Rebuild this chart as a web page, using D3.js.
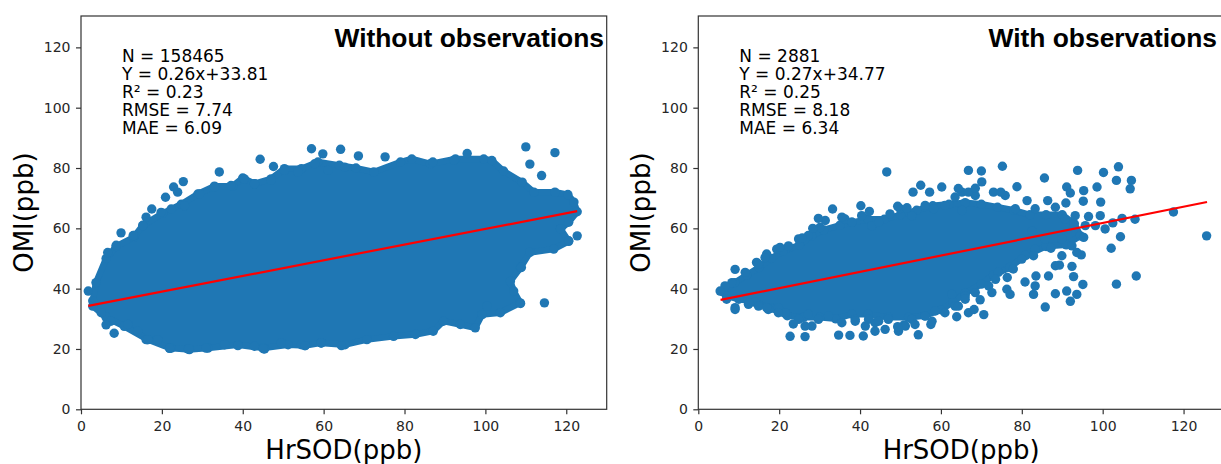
<!DOCTYPE html>
<html>
<head>
<meta charset="utf-8">
<script src="https://cdn.jsdelivr.net/npm/d3@7"></script>
<style>
  body { margin: 0; background: #fff; }
  svg { display: block; }
  .tick text { font-family: "DejaVu Sans", sans-serif; font-size: 14px; fill: #262626; }
  .tick line { stroke: #333; stroke-width: 1.2; }
</style>
</head>
<body>
<svg id="chart" width="1221" height="464"></svg>
<script>
// ticks shared by both panels
const xTicks = [0, 20, 40, 60, 80, 100, 120];
const yTicks = [0, 20, 40, 60, 80, 100, 120];

const titles = ["Without observations", "With observations"];
const xLabel = "HrSOD(ppb)";
const yLabel = "OMI(ppb)";

const statsLeft = ["N = 158465", "Y = 0.26x+33.81", "R\u00b2 = 0.23", "RMSE = 7.74", "MAE = 6.09"];
const statsRight = ["N = 2881", "Y = 0.27x+34.77", "R\u00b2 = 0.25", "RMSE = 8.18", "MAE = 6.34"];

// fitted line: slope, intercept, x extent
const fitLeft = [0.26, 33.81, 1.8, 122.7];
const fitRight = [0.27, 34.77, 5.5, 125.8];

const leftCore = [
  [2.9, 36], [3.7, 42], [6.2, 50], [8.7, 54], [13, 57], [15.3, 61], [20.2, 65], [24.8, 68],
  [28.9, 71.4], [33, 74], [37.5, 74], [40, 76.7], [42.9, 74.8], [47, 76.4], [50.3, 79.8],
  [54.5, 79.8], [58.6, 82], [63.9, 80.9], [68, 80], [72.4, 78.7], [79, 82], [81.8, 83],
  [86.4, 81.4], [92.6, 83], [99.6, 83], [101.6, 82.5], [104.5, 79], [109.1, 75.3], [112, 72],
  [117.2, 72], [120.4, 71.2], [121.9, 68.7], [122.7, 65.5], [120.6, 62], [118.6, 59.8],
  [120.6, 55.7], [116.9, 53.1], [111, 52], [108.7, 47], [106.2, 42.5], [107, 39.2],
  [108.6, 35.3], [103.7, 32], [99.2, 31.4], [97.5, 27], [93.8, 28.1], [89.6, 29.2],
  [87.1, 25.9], [82.7, 24.8], [77.3, 24.2], [70.7, 23.1], [65.3, 21.4], [59.4, 22],
  [55.4, 21.1], [51.2, 21.4], [45, 20.3], [38.8, 21.4], [31.4, 20.3], [26.8, 19.8],
  [21.9, 20.3], [16.5, 23.1], [10.7, 27.5], [6.2, 30.5], [2.9, 34.2]
];

// left panel: points on the ragged edge and loose points around the cloud
const leftPoints = [
  [6.6, 52], [8.7, 54.4], [13.2, 57.6], [15.3, 60.9], [16.1, 63.7], [19.8, 65.3], [22.3, 66.4],
  [25.6, 67.5], [29.3, 71.4], [33, 73.7], [37.1, 74.2], [40.4, 76.4], [42.9, 74.8], [47, 75.9],
  [50.3, 79.2], [53.6, 78.7], [57.8, 81.4], [61.1, 79.2], [65.2, 80.3],
  [5, 32], [7.4, 29.2], [11.6, 28.1], [14, 25.9], [16.1, 23.1], [19, 23.1], [22.3, 20.3],
  [26.4, 20], [30.9, 20.3], [35.5, 21.4], [38.8, 21.1], [42.9, 20.9], [45.4, 20], [49.5, 22],
  [54.5, 21.4], [59.4, 22], [64.4, 21.1],
  [1.8, 39.2], [9.9, 58.5], [12.9, 57.6], [17.5, 66.4], [20.9, 70.3], [22.9, 73.7], [23.9, 72],
  [25.3, 75.5], [34.2, 78.7], [44.3, 82.9], [47.6, 80.5], [57, 86.4], [59.8, 84.7], [64.2, 86.2],
  [68.6, 84], [75.2, 83.7], [87, 82], [92.2, 82.6], [95.5, 84.8], [110, 87], [117.2, 85.1],
  [111, 81.3], [113.9, 77.5], [108.9, 47], [114.6, 35.3], [122.7, 57.5], [8.2, 25.2], [6.2, 28],
  [118.6, 59.8], [120.6, 55.9], [100.4, 34.2], [108.7, 35.1], [16.5, 23.1], [21.9, 20.2],
  [26.7, 20.1], [45.1, 20.1], [55.4, 21.1]
];

// right panel: outline of the dense core
const rightCore = [
  [6, 39], [9, 42], [12, 44.5], [15, 47], [18, 50], [21, 52.5], [25, 54.5], [28, 57.5],
  [31, 59.5], [35, 61], [38, 62], [42, 63], [46, 63], [50, 64.5], [54, 66], [58, 67.5],
  [62, 68], [66, 68.5], [70, 68], [74, 67], [78, 66], [82, 64.5], [86, 64.5], [90, 64.5],
  [93, 61.5], [94.5, 57.5], [91, 54.5], [86, 54], [81, 51], [77, 47], [73, 44.5], [70, 41.5],
  [66, 38.5], [63, 35.5], [60, 33], [56, 31], [52, 30.5], [47, 30.5], [42, 31.5], [38, 31.5],
  [34, 30], [30, 30.5], [26, 30.5], [22, 31], [18, 33.5], [14, 35.5], [10, 36.5], [7, 37.5]
];

// right panel: scattered points outside and along the core
const rightPoints = [
  // upper edge
  [19.4, 53.1], [22.3, 54.2], [24.8, 56.5], [27.2, 57.6], [30.1, 60.3], [31.4, 62.6], [36.3, 63.1],
  [38, 62], [40.4, 64.2], [42.9, 60.9], [44.6, 62], [47.4, 64.8], [49.9, 66.5], [52.8, 64.2],
  [56.1, 67.6], [58.2, 66.5], [61, 67.6], [63.5, 70.4], [65.2, 65.9], [14.4, 48.7], [16.9, 51.5],
  [11.6, 45.4], [8.3, 42], [6.6, 40.9],
  // lower edge
  [7, 36.5], [9.1, 33.7], [12.4, 34.8], [14.9, 34.2], [17.3, 33.1], [19.8, 33.7], [21.5, 32],
  [24.8, 29.8], [27.2, 31.5], [29.7, 29.8], [32.2, 30.9], [35.5, 28.7], [38.8, 29.8], [41.3, 27.6],
  [43.7, 28.7], [47, 29.8], [51.2, 27.6], [52.8, 29.8], [56.1, 30.9], [58.6, 32.6], [61, 32],
  [63.5, 34.2], [66, 37.6], [46.2, 26.5], [49.5, 25.9],
  // edge of the right half of the core
  [65.2, 72], [68.5, 70.9], [75.9, 70.9], [78.4, 66.5], [83.3, 66.5], [88.3, 67], [90.7, 63.1],
  [93.2, 64.2], [89.9, 56.5], [85.8, 56.5], [83.3, 53.1], [80, 49.8], [77.9, 46.5], [74.2, 45.4],
  [71.8, 40.9], [68.5, 38.7], [66, 36.5], [64.3, 34.2], [66.8, 32], [72.6, 38.7], [76.3, 39.8],
  [83.3, 40.9], [86.6, 44.2], [88.3, 47.6], [89.9, 50.9], [92.4, 54.2], [95.7, 60.9], [98.2, 60.9],
  [100.6, 59.8],
  // loose points above
  [9.1, 46.4], [14.9, 48.1], [16.5, 50.3], [20.2, 53.7], [25.7, 56.8], [28.3, 60], [29.7, 63.3],
  [33.2, 66.4], [35.5, 63.7], [40.2, 67.5], [42.3, 65.6], [46.6, 78.7], [49.3, 67.3], [51.6, 66.8],
  [53.1, 72], [55, 74.3], [57.2, 72], [60.2, 73.7], [64.3, 73.2], [66.8, 79.2], [66.8, 72],
  [68.5, 73.3], [70, 79], [70.1, 75.4], [73, 72], [74.8, 72], [75.2, 80.6], [78.8, 73.8],
  [81.3, 69.2], [85.6, 76.7], [86.4, 69.2], [90.9, 68.4], [91.1, 73.7], [92, 71.7], [93.8, 79.2],
  [95.2, 69], [95.3, 72.5], [98.6, 73.7], [99.5, 68.7], [100.2, 78.5], [103.9, 80.4],
  [103.4, 75.9], [107.1, 75.9], [106.8, 73.1],
  // loose points to the right
  [96.5, 63.9], [99.4, 64.2], [102.5, 61.8], [104.8, 63.3], [108, 63], [117.5, 65.4],
  [125.7, 57.5], [104.4, 57.2], [102.1, 53.4], [95.3, 57], [94.7, 51.2], [93.6, 52], [87.2, 53.4],
  [82.5, 59.2], [82.9, 50.9],
  [89.3, 47.8], [92.4, 47.4], [92.8, 44], [95.1, 41.4], [103.4, 41.5], [108.3, 44.2], [91.1, 39.2],
  [93.6, 38.1], [92, 35.8], [88.3, 38.3], [85.8, 33.9], [82.9, 38.1], [83.5, 44.2], [80.8, 42.2],
  [77.1, 38.1], [76.4, 43.7], [73.5, 43.1], [70.6, 31.4], [68.2, 33.1], [69.7, 36.3], [63.9, 30.7],
  [62.7, 38.1],
  // loose points below
  [57.5, 28.1], [54.4, 24.7], [50.9, 28], [53.6, 28.1], [57.8, 29.2], [49.3, 27.4], [43.7, 25.9],
  [44.6, 29.2], [42.1, 29.8], [40.8, 24.3], [37.5, 24.5], [38.8, 29.2], [34.7, 24.6], [28.1, 27.6],
  [26.4, 24.1], [26.4, 27.6], [23.5, 28.3], [22.7, 24.2], [19.8, 32], [16.9, 33.7], [12.6, 35.3],
  [9.1, 33.1], [5.4, 39.2]
];

const blue = "#1f77b4";
const radius = 4.7;
const svg = d3.select("#chart");

function drawPanel(left, opts) {
  var top = 16,
    width = 525.7,
    height = 393.3;

  var xScale = d3.scaleLinear().domain([0, 130]).range([left, left + width]);
  var yScale = d3.scaleLinear().domain([0, 130.4]).range([top + height, top]);

  const g = svg.append("g");

  // dense cloud drawn as one filled outline, kept a little inside the edge markers
  const outline = d3
    .line()
    .x((d) => xScale(d[0]))
    .y((d) => yScale(d[1]))
    .curve(d3.curveLinearClosed);

  g.append("path")
    .attr("d", outline(opts.core))
    .attr("fill", blue)
    .attr("stroke", blue)
    .attr("stroke-width", radius * 2 - 3)
    .attr("stroke-linejoin", "round");

  g.append("g")
    .selectAll("circle")
    .data(opts.core.concat(opts.points))
    .join("circle")
    .attr("cx", (d) => xScale(d[0]))
    .attr("cy", (d) => yScale(d[1]))
    .attr("r", radius)
    .attr("fill", blue);

  // regression line
  var fit = opts.fit;
  g.append("line")
    .attr("x1", xScale(fit[2]))
    .attr("y1", yScale(fit[0] * fit[2] + fit[1]))
    .attr("x2", xScale(fit[3]))
    .attr("y2", yScale(fit[0] * fit[3] + fit[1]))
    .attr("stroke", "#ff0000")
    .attr("stroke-width", 2.2);

  // axes
  g.append("g")
    .attr("transform", "translate(0," + (top + height) + ")")
    .call(d3.axisBottom(xScale).tickValues(xTicks).tickSize(5).tickPadding(7))
    .call((a) => a.select(".domain").remove());

  g.append("g")
    .attr("transform", "translate(" + left + ",0)")
    .call(d3.axisLeft(yScale).tickValues(yTicks).tickSize(5).tickPadding(5.5))
    .call((a) => a.select(".domain").remove());

  g.append("rect")
    .attr("x", left)
    .attr("y", top)
    .attr("width", width)
    .attr("height", height)
    .attr("fill", "none")
    .attr("stroke", "#333")
    .attr("stroke-width", 1.2);

  g.append("text")
    .attr("x", left + width / 2)
    .attr("y", 459)
    .attr("text-anchor", "middle")
    .style("font-family", "DejaVu Sans, sans-serif")
    .style("font-size", "26px")
    .text(xLabel);

  g.append("text")
    .attr("transform", "translate(" + (left - 48) + "," + (top + height / 2) + ") rotate(-90)")
    .attr("text-anchor", "middle")
    .style("font-family", "DejaVu Sans, sans-serif")
    .style("font-size", "26px")
    .text(yLabel);

  g.append("text")
    .attr("x", opts.titleEnd)
    .attr("y", 47)
    .attr("text-anchor", "end")
    .style("font-family", "Liberation Sans, Arial, sans-serif")
    .style("font-weight", "bold")
    .style("font-size", "26.4px")
    .text(opts.title);

  g.append("g")
    .selectAll("text")
    .data(opts.stats)
    .join("text")
    .attr("x", left + 41)
    .attr("y", (d, i) => 62.3 + i * 18)
    .style("font-family", "DejaVu Sans, sans-serif")
    .style("font-size", "17px")
    .text((d) => d);
}

drawPanel(81, {
  core: leftCore,
  points: leftPoints,
  fit: fitLeft,
  stats: statsLeft,
  title: titles[0],
  titleEnd: 604
});

drawPanel(698.3, {
  core: rightCore,
  points: rightPoints,
  fit: fitRight,
  stats: statsRight,
  title: titles[1],
  titleEnd: 1217
});
</script>
</body>
</html>
